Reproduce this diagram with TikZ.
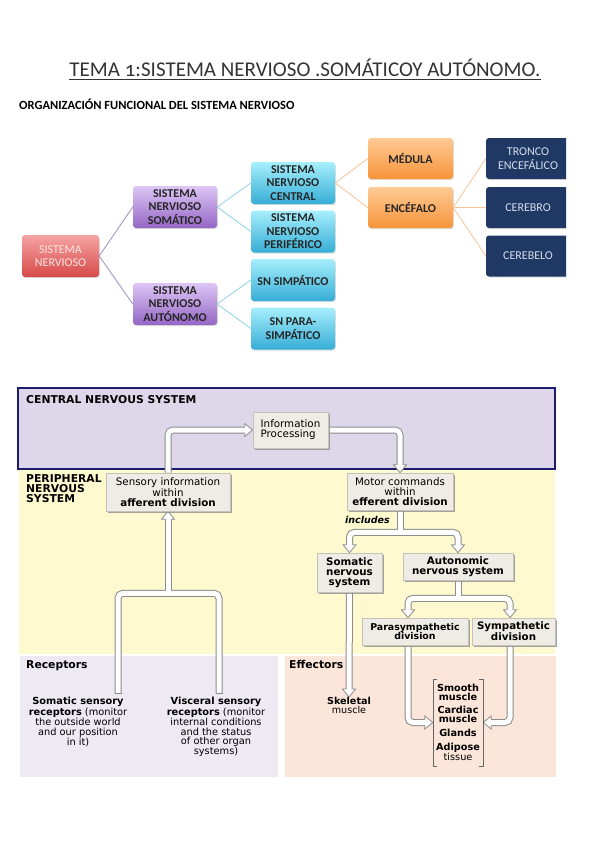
\documentclass[tikz,border=0pt]{standalone}
\usepackage{fontspec}
\setmainfont{Carlito}
\newfontfamily\dv{DejaVu Sans}
\usetikzlibrary{shadows,calc}
\pgfdeclarelayer{bg}
\pgfdeclarelayer{arr}
\pgfsetlayers{bg,arr,main}

\definecolor{redT}{HTML}{F6A4A4}
\definecolor{redB}{HTML}{D64A48}
\definecolor{redTx}{HTML}{FDE4E4}
\definecolor{purT}{HTML}{DDC6F5}
\definecolor{purB}{HTML}{9466C4}
\definecolor{bluT}{HTML}{A6EFFC}
\definecolor{bluB}{HTML}{36ADD6}
\definecolor{oraT}{HTML}{FFCA94}
\definecolor{oraB}{HTML}{F6943A}
\definecolor{navy}{HTML}{1F3864}
\definecolor{navyTx}{HTML}{D6DEEC}
\definecolor{lnP}{HTML}{9C8CC8}
\definecolor{lnB}{HTML}{8ED2E4}
\definecolor{lnO}{HTML}{F7C49C}
\definecolor{cnsfill}{HTML}{DED6E9}
\definecolor{cnsline}{HTML}{1C1C70}
\definecolor{pnsfill}{HTML}{FFF9CF}
\definecolor{recfill}{HTML}{EDEAF3}
\definecolor{efffill}{HTML}{FCE6D9}
\definecolor{boxfill}{HTML}{EEECE4}
\definecolor{boxline}{HTML}{C4C2B9}
\definecolor{arrline}{HTML}{8C8C8C}

\newcommand\tfb{\bfseries\fontsize{12}{13.5}\selectfont}
\newcommand\tfr{\fontsize{12}{13.5}\selectfont}
\newcommand\bxf{\dv\fontsize{10.3}{9.8}\selectfont}
\newcommand\bxr{\dv\fontsize{9.8}{9.4}\selectfont}
\newcommand\hdf{\dv\bfseries\fontsize{10.8}{10}\selectfont}

\newcommand\hhead[2]{\filldraw[fill=white,draw=arrline,line width=0.8pt,line join=miter,shift={#1},rotate=#2] (0,0) -- (-8,6.5) -- (-8,-6.5) -- cycle;}

\newcommand\shafts[1]{%
 \draw[#1] (sens.north) |- ($(info.west)+(-6.5,0)$);
 \draw[#1] (info.east) -| ($(mot.north)+(0,-6.5)$);
 \draw[#1] (sj) -- ($(sens.south)+(0,6.5)$);
 \draw[#1] (r1) |- (sj) -| (r2);
 \draw[#1] (mot.south) -- (ej);
 \draw[#1] ($(somn.north)+(0,-6.5)$) |- (ej) -| ($(autn.north)+(0,-6.5)$);
 \draw[#1] (autn.south) -- (aj);
 \draw[#1] ($(pa)+(0,-6.5)$) |- (aj) -| ($(sa)+(0,-6.5)$);
 \draw[#1] (somn.south) -- ($(skel.north)+(0,-6.5)$);
 \draw[#1] (pb) |- ($(blist.west)+(-6.5,0)$);
 \draw[#1] (sb) |- ($(blist.east)+(6.5,0)$);
}

\begin{document}
\begin{tikzpicture}[x=1pt,y=-1pt,
 tb/.style={rounded corners=3pt, minimum width=84pt, minimum height=42pt, inner sep=0pt, align=center,
   drop shadow={shadow xshift=0.8pt,shadow yshift=-1.2pt,opacity=0.25}},
 redb/.style={tb, top color=redT, bottom color=redB, text=redTx, font=\tfr, minimum width=77pt},
 purb/.style={tb, top color=purT, bottom color=purB, font=\tfb, text=black!85},
 blub/.style={tb, top color=bluT, bottom color=bluB, font=\tfb, text=black!85},
 orab/.style={tb, top color=oraT, bottom color=oraB, font=\tfb, text=black!85, minimum height=41pt, minimum width=85pt},
 navb/.style={tb, fill=navy, text=navyTx, font=\tfr, minimum height=41pt},
 tl/.style={line width=0.8pt},
 fb/.style={draw=boxline, fill=boxfill, line width=0.6pt, inner sep=0pt, align=center, font=\bxf,
   drop shadow={shadow xshift=2pt,shadow yshift=-2pt,fill=black!45,opacity=0.8}},
 fbb/.style={fb, font=\bxf\bfseries},
 ao/.style={draw=arrline, line width=7pt, rounded corners=5pt},
 ai/.style={draw=white, line width=5pt, rounded corners=5pt},
 bracket/.style={draw=black!60, line width=0.6pt},
 lab/.style={inner sep=0pt}
]
\useasboundingbox (0,0) rectangle (599,848);
\begin{pgfonlayer}{bg}
\fill[white] (0,0) rectangle (599,848);
\fill[pnsfill] (19,470) rectangle (555,654);
\filldraw[fill=cnsfill, draw=cnsline, line width=1.6pt] (18,388) rectangle (555,469);
\fill[recfill] (20,656) rectangle (278,777);
\fill[efffill] (285,656) rectangle (556,777);
\end{pgfonlayer}

% ---------- title ----------
\node[lab, font=\fontsize{21}{21}\selectfont, text=black!80, anchor=base] (title) at (305,77)
  {TEMA {\addfontfeatures{Numbers=OldStyle}1}:SISTEMA NERVIOSO .SOMÁTICOY AUTÓNOMO.};
\draw[line width=1pt, black!80] ([yshift=-2.5pt]title.base west) -- ([yshift=-2.5pt]title.base east);
\node[lab, font=\bfseries\fontsize{12.5}{12.5}\selectfont, anchor=base west] (sub) at (19,110)
  {ORGANIZACIÓN FUNCIONAL DEL SISTEMA NERVIOSO};

% ---------- concept map ----------
\node[redb] (sn) at (60.5,256) {SISTEMA\\NERVIOSO};
\node[purb] (tsom) at (175,207) {SISTEMA\\NERVIOSO\\SOMÁTICO};
\node[purb] (taut) at (175,304) {SISTEMA\\NERVIOSO\\AUTÓNOMO};
\node[blub] (tcen) at (293,183) {SISTEMA\\NERVIOSO\\CENTRAL};
\node[blub] (tper) at (293,231.5) {SISTEMA\\NERVIOSO\\PERIFÉRICO};
\node[blub] (tsimp) at (293,280) {SN SIMPÁTICO};
\node[blub] (tpara) at (293,328.5) {SN PARA-\\SIMPÁTICO};
\node[orab] (tmed) at (410.5,158.5) {MÉDULA};
\node[orab] (tenc) at (410.5,207.5) {ENCÉFALO};
\begin{scope}
\clip (0,0) rectangle (566,848);
\node[navb] (ttro) at (528,158.5) {TRONCO\\ENCEFÁLICO};
\node[navb] (tcer) at (528,207.5) {CEREBRO};
\node[navb] (tcbl) at (528,256) {CEREBELO};
\end{scope}
\draw[tl, draw=lnP] (sn.east) -- (tsom.west) (sn.east) -- (taut.west);
\draw[tl, draw=lnB] (tsom.east) -- (tcen.west) (tsom.east) -- (tper.west)
  (taut.east) -- (tsimp.west) (taut.east) -- (tpara.west);
\draw[tl, draw=lnO] (tcen.east) -- (tmed.west) (tcen.east) -- (tenc.west);
\draw[tl, draw=lnO] (tenc.east) -- (ttro.west) (tenc.east) -- (tcer.west) (tenc.east) -- (tcbl.west);

% ---------- lower figure ----------
\node[lab, font=\hdf, anchor=base west] (hcns) at (26,403) {CENTRAL NERVOUS SYSTEM};
\node[lab, font=\hdf, anchor=north west, align=left] (hpns) at (26,474) {PERIPHERAL\\NERVOUS\\SYSTEM};
\node[lab, font=\hdf, anchor=base west] (hrec) at (26,668) {Receptors};
\node[lab, font=\hdf, anchor=base west] (heff) at (289,668) {Effectors};
\node[lab, font=\dv\bfseries\itshape\fontsize{9.5}{9.5}\selectfont, anchor=base west] (inc) at (345,523) {includes};

\node[fb, minimum width=75pt, minimum height=36pt, align=left] (info) at (290.5,430) {Information\\Processing};
\node[fb, minimum width=124pt, minimum height=38pt] (sens) at (168,492) {Sensory information\\within\\\textbf{afferent division}};
\node[fb, minimum width=106pt, minimum height=37pt] (mot) at (400,491.5) {Motor commands\\within\\\textbf{efferent division}};
\node[fbb, minimum width=65pt, minimum height=39pt] (somn) at (349.5,572.5) {Somatic\\nervous\\system};
\node[fbb, minimum width=110pt, minimum height=27pt] (autn) at (458,566.5) {Autonomic\\nervous system};
\node[fbb, minimum width=106pt, minimum height=27pt, font=\dv\bfseries\fontsize{9.4}{9.8}\selectfont] (para) at (415,631.5) {Parasympathetic\\division};
\node[fbb, minimum width=83pt, minimum height=27pt] (symp) at (513.5,631.5) {Sympathetic\\division};

\node[lab, font=\dv\fontsize{9.6}{9.4}\selectfont, align=center, anchor=north] (skel) at (349,697) {\textbf{Skeletal}\\muscle};
\node[lab, font=\dv\bfseries\fontsize{9.7}{9}\selectfont, align=center, minimum width=50pt, minimum height=87pt] (blist) at (458,722.5)
  {Smooth\\muscle\\[4.5pt]Cardiac\\muscle\\[4.5pt]Glands\\[5pt]Adipose\\\mdseries tissue};
\draw[bracket] ([xshift=4pt]blist.north west) -- (blist.north west) -- (blist.south west) -- ([xshift=4pt]blist.south west);
\draw[bracket] ([xshift=-4pt]blist.north east) -- (blist.north east) -- (blist.south east) -- ([xshift=-4pt]blist.south east);

\node[lab, font=\bxr, align=center, anchor=north] (recS) at (78,697)
  {\textbf{Somatic sensory}\\\textbf{receptors} (monitor\\the outside world\\and our position\\in it)};
\node[lab, font=\bxr, align=center, anchor=north] (recV) at (216,697)
  {\textbf{Visceral sensory}\\\textbf{receptors} (monitor\\internal conditions\\and the status\\of other organ\\systems)};

\coordinate (sj) at ($(sens.south)+(0,82)$);
\coordinate (r1) at ($(sj)+(-50,100)$);
\coordinate (r2) at ($(sj)+(51,100)$);
\coordinate (ej) at ($(mot.south)+(0,22)$);
\coordinate (aj) at ($(autn.south)+(0,18)$);
\coordinate (pa) at ($(para.north)+(-7,0)$);
\coordinate (pb) at ($(para.south)+(-7,0)$);
\coordinate (sa) at ($(symp.north)+(-3.5,0)$);
\coordinate (sb) at ($(symp.south)+(-3.5,0)$);

\begin{pgfonlayer}{arr}
\shafts{ao}
\hhead{(info.west)}{0}
\hhead{(mot.north)}{-90}
\hhead{(sens.south)}{90}
\hhead{(somn.north)}{-90}
\hhead{(autn.north)}{-90}
\hhead{(pa)}{-90}
\hhead{(sa)}{-90}
\hhead{(skel.north)}{-90}
\hhead{(blist.west)}{0}
\hhead{(blist.east)}{180}
\shafts{ai}
\draw[arrline, line width=0.8pt] ($(r1)+(-3.5,0)$) -- ($(r1)+(3.5,0)$);
\draw[arrline, line width=0.8pt] ($(r2)+(-3.5,0)$) -- ($(r2)+(3.5,0)$);
\end{pgfonlayer}
\end{tikzpicture}
\end{document}
